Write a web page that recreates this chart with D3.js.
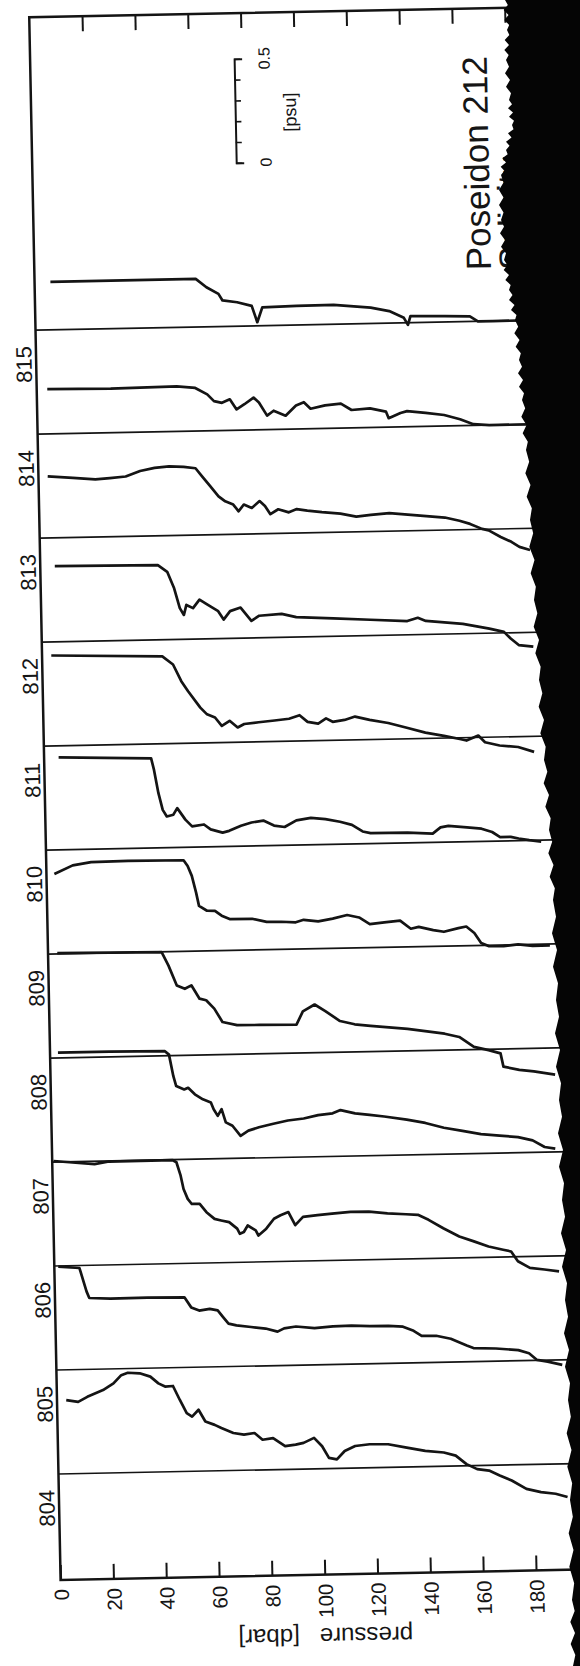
<!DOCTYPE html>
<html>
<head>
<meta charset="utf-8">
<script src="https://cdn.jsdelivr.net/npm/d3@7"></script>
<style>
  body { margin: 0; background: #fff; }
  svg { display: block; }
  text { font-family: "Liberation Sans", Arial, Helvetica, sans-serif; fill: #151515; }
</style>
</head>
<body>
<svg id="chart"></svg>
<script>
// stations, bottom (804) to top (815); each profile is offset by 0.5 psu
const stations = ["804", "805", "806", "807", "808", "809", "810", "811", "812", "813", "814", "815"];
const pressureTicks = [0, 20, 40, 60, 80, 100, 120, 140, 160, 180];
const psuTicks = [0, 0.1, 0.2, 0.3, 0.4, 0.5];

// pressure [dbar] and salinity relative to the station line [psu]
const p804 = [3.5, 8, 11.5, 17.5, 21.5, 24.5, 27, 31.5, 35.5, 38.5, 41, 44, 46.5, 49, 51, 53.5, 56, 59.5, 62, 66.5, 70.5, 74.5, 77.5, 81.5, 86, 90, 93, 97, 100, 102.5, 105.5, 108.5, 112.5, 118, 125, 132, 139, 146, 150.5, 154.5, 158.5, 163, 167, 171.5, 177, 182.5, 188, 192.5];
const s804 = [0.354, 0.345, 0.368, 0.399, 0.430, 0.469, 0.480, 0.476, 0.459, 0.426, 0.410, 0.412, 0.344, 0.280, 0.263, 0.295, 0.238, 0.221, 0.205, 0.180, 0.171, 0.178, 0.145, 0.152, 0.112, 0.118, 0.126, 0.149, 0.108, 0.051, 0.043, 0.083, 0.106, 0.113, 0.111, 0.093, 0.076, 0.066, 0.050, 0.008, -0.017, -0.025, -0.050, -0.075, -0.117, -0.134, -0.143, -0.160];

const p805 = [1.5, 9.5, 12, 13, 21, 35, 49, 51.5, 54.5, 58.5, 61.5, 63.5, 65.5, 68.5, 74, 79.5, 84, 86.5, 91, 98, 105, 112, 119, 126, 131.5, 135.5, 138.5, 144, 149.5, 155.5, 158, 166.5, 175, 179, 182, 186, 191.5];
const s805 = [0.497, 0.488, 0.375, 0.343, 0.338, 0.339, 0.337, 0.288, 0.272, 0.279, 0.271, 0.238, 0.206, 0.197, 0.188, 0.179, 0.163, 0.178, 0.186, 0.176, 0.183, 0.185, 0.181, 0.180, 0.175, 0.154, 0.129, 0.128, 0.112, 0.078, 0.065, 0.061, 0.051, 0.035, 0.002, -0.007, -0.024];

const p806 = [0.5, 16, 21.5, 45.5, 47, 48.5, 49.5, 51, 52.5, 55.5, 58, 61, 63.5, 66.5, 69.5, 70.5, 72, 73.5, 76.5, 77.5, 80.5, 83.5, 86, 89, 91.5, 94.5, 100, 105.5, 112.5, 119.5, 126.5, 133.5, 138, 142, 147.5, 153.5, 159, 164.5, 170, 173, 175.5, 180, 185.5, 191];
const s806 = [0.505, 0.486, 0.497, 0.498, 0.487, 0.422, 0.358, 0.310, 0.285, 0.285, 0.244, 0.211, 0.203, 0.194, 0.162, 0.137, 0.145, 0.176, 0.152, 0.127, 0.159, 0.206, 0.222, 0.237, 0.173, 0.212, 0.219, 0.225, 0.232, 0.231, 0.221, 0.215, 0.211, 0.186, 0.144, 0.103, 0.078, 0.052, 0.035, 0.026, -0.022, -0.055, -0.064, -0.074];

const p807 = [3, 22.5, 43.5, 45, 46.5, 47.5, 50.5, 52, 54.5, 57.5, 60.5, 61.5, 63, 64.5, 66, 68.5, 71.5, 74.5, 78.5, 84, 89.5, 95.5, 101, 106.5, 109.5, 115, 120.5, 126, 134.5, 141.5, 148.5, 155.5, 162.5, 169.5, 176.5, 182, 186.5, 190.5];
const s807 = [0.525, 0.525, 0.522, 0.505, 0.401, 0.353, 0.336, 0.344, 0.312, 0.287, 0.271, 0.238, 0.206, 0.238, 0.174, 0.157, 0.108, 0.132, 0.147, 0.163, 0.177, 0.185, 0.200, 0.207, 0.222, 0.205, 0.196, 0.187, 0.170, 0.152, 0.127, 0.110, 0.093, 0.084, 0.075, 0.058, 0.025, 0.016];

const p808 = [3.5, 43, 45.5, 48.5, 51.5, 54, 57, 59.5, 62.5, 65.5, 71, 79.5, 93.5, 96, 100.5, 104.5, 110, 115.5, 121.5, 135.5, 149.5, 155, 160.5, 166, 170.5, 171.5, 177.5, 183, 191];
const s808 = [0.504, 0.498, 0.433, 0.337, 0.320, 0.336, 0.271, 0.263, 0.222, 0.157, 0.140, 0.139, 0.137, 0.200, 0.232, 0.199, 0.150, 0.133, 0.124, 0.106, 0.079, 0.062, 0.013, -0.004, -0.021, -0.085, -0.102, -0.111, -0.128];

const p809 = [3, 10, 17, 31, 52, 53.5, 55, 56.5, 57.5, 60.5, 63.5, 66, 69, 77.5, 83, 88.5, 94, 97, 102.5, 108, 113.5, 118, 122, 127.5, 133.5, 137.5, 140.5, 146, 150, 155.5, 158.5, 161.5, 164, 167, 172.5, 178, 183.5, 190];
const s809 = [0.384, 0.424, 0.438, 0.440, 0.438, 0.410, 0.362, 0.281, 0.217, 0.193, 0.192, 0.168, 0.151, 0.150, 0.134, 0.133, 0.129, 0.140, 0.131, 0.143, 0.159, 0.146, 0.113, 0.120, 0.127, 0.087, 0.095, 0.078, 0.069, 0.085, 0.092, 0.060, 0.012, -0.005, -0.006, 0.001, -0.007, -0.007];

const p810 = [5.5, 40.5, 41.5, 43, 44.5, 46, 48.5, 50, 53, 55.5, 60, 62.5, 67, 69.5, 74, 78, 82.5, 86.5, 90.5, 95, 100.5, 106, 111.5, 116, 120, 123, 137, 146.5, 149.5, 152.5, 159.5, 165, 169, 172, 176, 179, 183, 187.5];
const s810 = [0.445, 0.431, 0.375, 0.263, 0.182, 0.150, 0.158, 0.189, 0.133, 0.100, 0.108, 0.084, 0.067, 0.075, 0.098, 0.113, 0.121, 0.096, 0.088, 0.119, 0.129, 0.122, 0.108, 0.092, 0.059, 0.050, 0.049, 0.042, 0.071, 0.078, 0.069, 0.061, 0.044, 0.019, 0.019, 0.010, 0.001, -0.007];

const p811 = [3.5, 45.5, 49.5, 52.5, 55, 59.5, 62, 65, 67.5, 70.5, 73.5, 76, 81.5, 87.5, 93, 97, 100, 104, 107, 109.5, 114, 118, 123.5, 130.5, 137.5, 144.5, 151.5, 157.5, 160, 164.5, 167, 172.5, 179.5, 185.5];
const s811 = [0.435, 0.420, 0.380, 0.299, 0.250, 0.170, 0.137, 0.121, 0.080, 0.104, 0.071, 0.087, 0.094, 0.101, 0.108, 0.124, 0.091, 0.082, 0.106, 0.089, 0.097, 0.112, 0.095, 0.078, 0.053, 0.028, 0.011, -0.006, -0.014, 0.009, -0.024, -0.041, -0.050, -0.075];

const p812 = [5.5, 44.5, 48, 50.5, 52.5, 54, 55, 57.5, 60, 63, 67, 69, 71.5, 75.5, 79.5, 82.5, 91, 96.5, 110.5, 124.5, 138.5, 142.5, 145.5, 159.5, 169.5, 175, 177.5, 180.5, 186];
const s812 = [0.364, 0.359, 0.326, 0.246, 0.150, 0.117, 0.165, 0.149, 0.189, 0.164, 0.132, 0.091, 0.131, 0.147, 0.082, 0.106, 0.113, 0.096, 0.086, 0.076, 0.066, 0.081, 0.065, 0.047, 0.022, 0.005, -0.028, -0.060, -0.069];

const p813 = [3.5, 13, 21.5, 27, 33, 38.5, 44, 49.5, 55, 59.5, 62, 65, 68, 70.5, 73.5, 75.5, 77.5, 80.5, 83.5, 85.5, 87.5, 90.5, 94.5, 97.5, 101.5, 107, 114, 120, 125.5, 132.5, 139.5, 146.5, 153.5, 159, 163, 167.5, 170, 174.5, 178.5, 181.5, 185.5];
const s813 = [0.296, 0.287, 0.277, 0.282, 0.288, 0.313, 0.327, 0.333, 0.329, 0.321, 0.280, 0.232, 0.184, 0.159, 0.143, 0.110, 0.142, 0.125, 0.157, 0.133, 0.093, 0.116, 0.100, 0.115, 0.107, 0.098, 0.089, 0.073, 0.080, 0.087, 0.078, 0.069, 0.060, 0.043, 0.027, 0.002, -0.006, -0.039, -0.063, -0.088, -0.104];

const p814 = [4, 28, 53, 60, 64.5, 67, 70, 73, 75.5, 78.5, 82, 84, 87, 89.5, 94, 98, 101, 103.5, 109, 115, 119, 126, 132, 133, 137.5, 140, 147, 154, 160, 165, 171, 190];
const s814 = [0.216, 0.212, 0.216, 0.207, 0.175, 0.142, 0.133, 0.149, 0.100, 0.124, 0.155, 0.131, 0.067, 0.090, 0.065, 0.113, 0.128, 0.096, 0.111, 0.118, 0.086, 0.092, 0.075, 0.043, 0.067, 0.075, 0.065, 0.053, 0.031, 0.006, 0, 0];

const p815 = [6, 61, 65, 69.5, 71, 76.5, 82, 84, 86, 99, 113, 127, 134, 139.5, 141, 142, 155, 164.5, 167.5, 173, 190];
const s815 = [0.231, 0.231, 0.190, 0.157, 0.125, 0.115, 0.096, 0.017, 0.088, 0.092, 0.093, 0.076, 0.058, 0.024, -0.010, 0.032, 0.028, 0.025, 0, 0, 0];

const profiles = [
  [p804, s804], [p805, s805], [p806, s806], [p807, s807], [p808, s808], [p809, s809],
  [p810, s810], [p811, s811], [p812, s812], [p813, s813], [p814, s814], [p815, s815]
];

const width = 580, height = 1666;
const plotTop = 12, plotBottom = 1575, pMax = 196;
const ink = "#141414";

const svg = d3.select("#chart").attr("width", width).attr("height", height);
svg.append("rect").attr("width", width).attr("height", height).attr("fill", "#fff");

// the scanned page sits slightly skewed
const g = svg.append("g").attr("transform", "rotate(-1.15,300,800)");

const x = d3.scaleLinear().domain([0, 180]).range([45, 520.5]);
const y = d3.scaleLinear().domain([0, 5.5]).range([1469, 325]);

// frame
g.append("rect")
  .attr("x", x(0)).attr("y", plotTop)
  .attr("width", x(pMax) - x(0)).attr("height", plotBottom - plotTop)
  .attr("fill", "none").attr("stroke", ink).attr("stroke-width", 2.5);

// pressure axis (bottom, labelled) and mirrored ticks on top
const bottomAxis = g.append("g")
  .attr("transform", `translate(0,${plotBottom})`)
  .call(d3.axisBottom(x).tickValues(pressureTicks).tickSize(-15).tickSizeOuter(0));
bottomAxis.select(".domain").remove();
bottomAxis.selectAll("line").attr("stroke", ink).attr("stroke-width", 2);
bottomAxis.selectAll("text")
  .attr("transform", "rotate(-90)")
  .attr("x", -9).attr("y", 0).attr("dy", "0.36em")
  .attr("text-anchor", "end")
  .attr("font-size", 20.5)
  .attr("fill", ink);

const topAxis = g.append("g")
  .attr("transform", `translate(0,${plotTop})`)
  .call(d3.axisTop(x).tickValues(pressureTicks.slice(1)).tickSize(-15).tickSizeOuter(0).tickFormat(""));
topAxis.select(".domain").remove();
topAxis.selectAll("line").attr("stroke", ink).attr("stroke-width", 2);

g.append("text")
  .attr("transform", `translate(309,1637) rotate(180)`)
  .attr("text-anchor", "middle")
  .attr("dominant-baseline", "central")
  .attr("font-size", 24)
  .text("pressure\u00a0\u00a0\u00a0[dbar]");

// station reference lines and labels
g.selectAll(".stn-line")
  .data(stations)
  .join("line")
  .attr("class", "stn-line")
  .attr("x1", x(0)).attr("x2", x(pMax))
  .attr("y1", (d, i) => y(i * 0.5)).attr("y2", (d, i) => y(i * 0.5))
  .attr("stroke", ink).attr("stroke-width", 1.7);

g.selectAll(".stn-label")
  .data(stations)
  .join("text")
  .attr("class", "stn-label")
  .attr("transform", (d, i) => `translate(33,${y(i * 0.5) + 34}) rotate(-90)`)
  .attr("text-anchor", "middle")
  .attr("dominant-baseline", "central")
  .attr("font-size", 22)
  .text(d => d);

// profiles
const line = d3.line()
  .x(d => x(d[0]))
  .y(d => y(d[1]));

profiles.forEach(([pArr, sArr], i) => {
  g.append("path")
    .datum(d3.zip(pArr, sArr.map(v => v + i * 0.5)))
    .attr("d", line)
    .attr("fill", "none")
    .attr("stroke", ink)
    .attr("stroke-width", 2.7)
    .attr("stroke-linejoin", "round");
});

// salinity scale bar
const barScale = d3.scaleLinear().domain([0, 0.5]).range([161.7, 161.7 - (y(0) - y(0.5))]);
const bar = g.append("g")
  .attr("transform", "translate(249,0)")
  .call(d3.axisRight(barScale).tickValues(psuTicks).tickSize(6).tickSizeOuter(8).tickFormat(""));
bar.select(".domain").attr("stroke", ink).attr("stroke-width", 2);
bar.selectAll("line").attr("stroke", ink).attr("stroke-width", 1.6);

[[0, "0"], [0.5, "0.5"]].forEach(([v, t]) => {
  g.append("text")
    .attr("transform", `translate(279,${barScale(v)}) rotate(-90)`)
    .attr("text-anchor", "middle")
    .attr("dominant-baseline", "central")
    .attr("font-size", 16)
    .text(t);
});
g.append("text")
  .attr("transform", "translate(304,112) rotate(-90)")
  .attr("text-anchor", "middle")
  .attr("dominant-baseline", "central")
  .attr("font-size", 18)
  .text("[psu]");

// title
g.append("text")
  .attr("transform", "translate(489,274) rotate(-90)")
  .attr("dominant-baseline", "central")
  .attr("font-size", 35)
  .text("Poseidon 212");
g.append("text")
  .attr("transform", "translate(522,274) rotate(-90)")
  .attr("dominant-baseline", "central")
  .attr("font-size", 35)
  .text("Salinity");

// dark scanner margin on the right
const edge = [[505, 0], [507, 30], [506, 60], [509, 100], [512, 125], [506, 150], [501, 175], [501, 220],
  [504, 260], [509, 290], [515, 320], [519, 360], [522, 400], [526, 450], [530, 520], [534, 600],
  [539, 680], [544, 760], [549, 830], [553, 900], [556, 1000], [559, 1100], [562, 1200], [565, 1300],
  [568, 1400], [570, 1500], [572, 1600], [573, 1666]];
const ragged = [];
edge.forEach((pt, i) => {
  if (i === 0) { ragged.push(pt); return; }
  const [x0, y0] = edge[i - 1];
  for (let k = 1; k <= 6; k++) {
    const t = k / 6;
    const jig = k === 6 ? 0 : (k % 2 ? 2.5 : -2);
    ragged.push([x0 + (pt[0] - x0) * t + jig, y0 + (pt[1] - y0) * t]);
  }
});
const bandPts = ragged.concat([[width, height], [width, 0]]);
svg.append("path")
  .attr("d", d3.line()(bandPts) + "Z")
  .attr("fill", "#050505");
</script>
</body>
</html>
